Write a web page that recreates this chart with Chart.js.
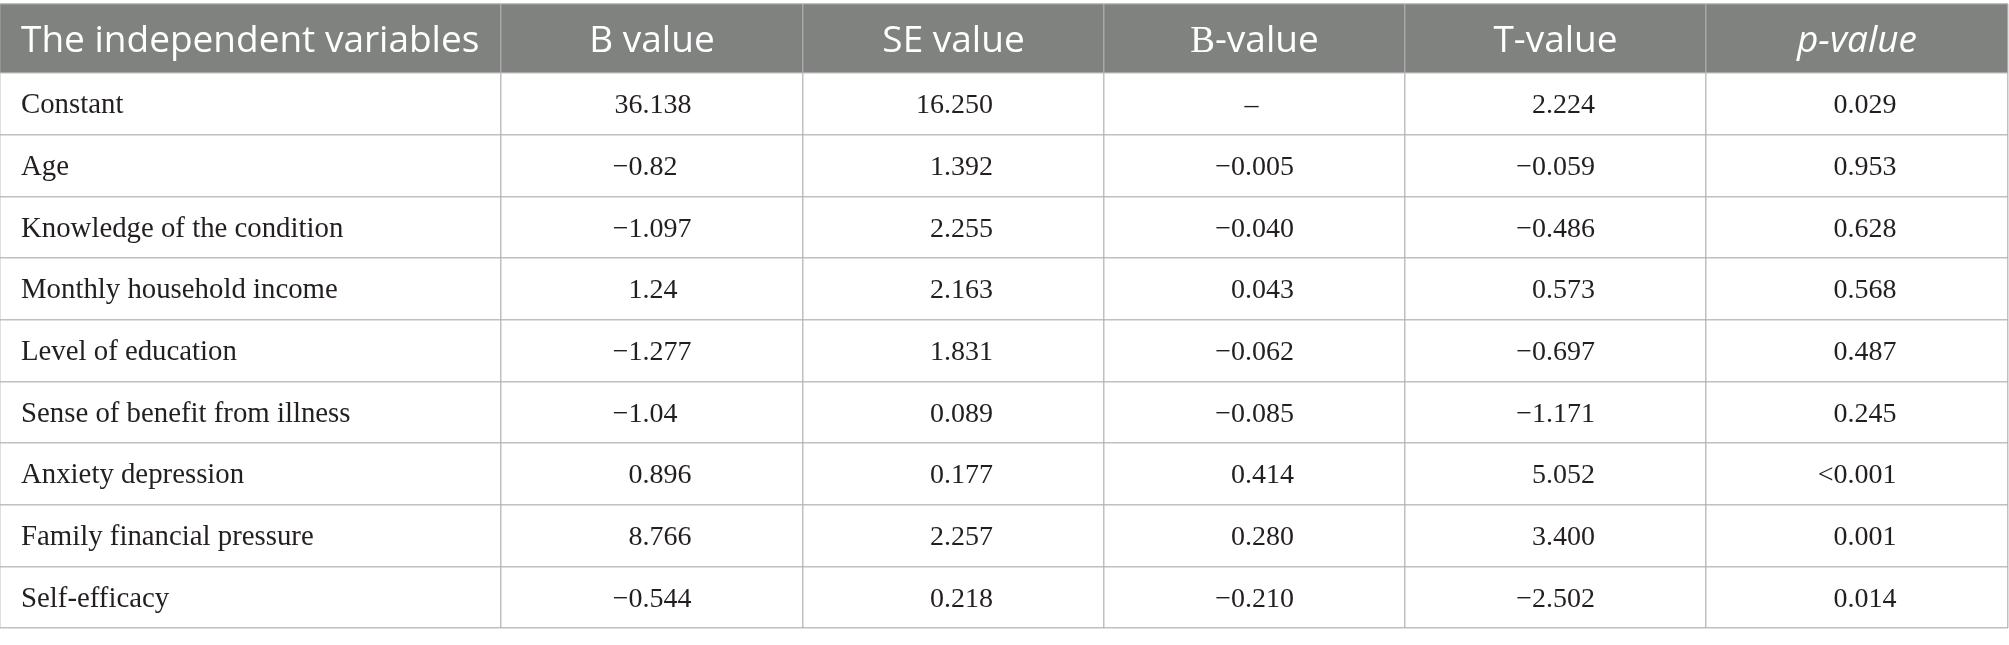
<!DOCTYPE html>
<html>
<head>
<meta charset="utf-8">
<script src="https://cdn.jsdelivr.net/npm/chart.js@4.4.1/dist/chart.umd.min.js"></script>
<style>
  html, body { margin: 0; padding: 0; background: #fff; overflow: hidden; }
  #wrap { width: 2009px; height: 645px; position: relative; }
</style>
</head>
<body>
<div id="wrap"><canvas id="c" width="2009" height="645"></canvas></div>
<script>
// ---------- data ----------
const columnHeaders = ['The independent variables', 'B value', 'SE value', 'Β-value', 'T-value', 'p-value'];
const variables = [
  'Constant',
  'Age',
  'Knowledge of the condition',
  'Monthly household income',
  'Level of education',
  'Sense of benefit from illness',
  'Anxiety depression',
  'Family financial pressure',
  'Self-efficacy'
];
const bValues    = [36.138, -0.82, -1.097, 1.24, -1.277, -1.04, 0.896, 8.766, -0.544];
const seValues   = [16.250, 1.392, 2.255, 2.163, 1.831, 0.089, 0.177, 2.257, 0.218];
const betaValues = [null, -0.005, -0.040, 0.043, -0.062, -0.085, 0.414, 0.280, -0.210];
const tValues    = [2.224, -0.059, -0.486, 0.573, -0.697, -1.171, 5.052, 3.400, -2.502];
const pValues    = ['0.029', '0.953', '0.628', '0.568', '0.487', '0.245', '<0.001', '0.001', '0.014'];

// ---------- layout ----------
const COL_WIDTHS = [501, 302, 301, 301, 301, 302];
const HEADER_HEIGHT = 69;
const ROW_HEIGHT = 61.67;

const colEdges = [0];
COL_WIDTHS.forEach(w => colEdges.push(colEdges[colEdges.length - 1] + w));
const colCenters = COL_WIDTHS.map((w, j) => colEdges[j] + w / 2);
const rowEdges = [0, HEADER_HEIGHT];
variables.forEach(() => rowEdges.push(rowEdges[rowEdges.length - 1] + ROW_HEIGHT));
const rowCenters = variables.map((_, i) => HEADER_HEIGHT + ROW_HEIGHT * (i + 0.5));
const TOTAL_W = colEdges[colEdges.length - 1];
const TOTAL_H = rowEdges[rowEdges.length - 1];

const minus = s => s.replace('-', '\u2212');
const columnTexts = [
  variables,
  bValues.map(v => minus(String(v))),
  seValues.map(v => v.toFixed(3)),
  betaValues.map(v => v === null ? '\u2013' : minus(v.toFixed(3))),
  tValues.map(v => minus(v.toFixed(3))),
  pValues
];

const HEADER_FONT = "37px 'Open Sans'";
const NAME_FONT = "28.8px 'Liberation Serif'";
const NUM_FONT = "28px 'Liberation Serif'";
const DECIMAL_SHIFT = -6;

const datasets = columnTexts.map((texts, j) => ({
  label: columnHeaders[j],
  kind: j === 0 ? 'name' : 'num',
  cellText: texts,
  data: texts.map((t, i) => ({ x: j === 0 ? colEdges[0] : colCenters[j], y: rowCenters[i] })),
  pointRadius: 0,
  showLine: false
}));
datasets.push({
  label: 'header',
  kind: 'header',
  cellText: columnHeaders,
  data: columnHeaders.map((h, j) => ({ x: j === 0 ? colEdges[0] : colCenters[j], y: HEADER_HEIGHT / 2 })),
  pointRadius: 0,
  showLine: false
});

const tablePlugin = {
  id: 'tablePlugin',
  beforeDraw(chart) {
    const { ctx, scales: { x, y } } = chart;
    ctx.save();
    ctx.fillStyle = '#ffffff';
    ctx.fillRect(0, 0, chart.width, chart.height);
    const x0 = x.getPixelForValue(0), x1 = x.getPixelForValue(TOTAL_W);
    const y0 = y.getPixelForValue(0), y1 = y.getPixelForValue(HEADER_HEIGHT);
    ctx.fillStyle = '#7f827f';
    ctx.fillRect(x0, y0, x1 - x0, y1 - y0);
    ctx.restore();
  },
  afterDatasetsDraw(chart) {
    const ctx = chart.ctx;
    ctx.save();
    chart.data.datasets.forEach((ds, di) => {
      const meta = chart.getDatasetMeta(di);
      meta.data.forEach((pt, i) => {
        const text = ds.cellText[i];
        if (ds.kind === 'header') {
          ctx.fillStyle = '#ffffff';
          ctx.textBaseline = 'alphabetic';
          const by = pt.y + 14;
          if (i === 0) {
            ctx.font = HEADER_FONT;
            ctx.textAlign = 'left';
            ctx.fillText(text, pt.x + 21, by);
          } else if (text.startsWith('Β')) {
            ctx.font = "37px 'Liberation Serif'";
            const w1 = ctx.measureText('Β').width;
            ctx.font = HEADER_FONT;
            const rest = text.slice(1);
            const w2 = ctx.measureText(rest).width;
            const sx = pt.x - (w1 + w2) / 2;
            ctx.textAlign = 'left';
            ctx.font = "37px 'Liberation Serif'";
            ctx.fillText('Β', sx, by);
            ctx.font = HEADER_FONT;
            ctx.fillText(rest, sx + w1, by);
          } else {
            ctx.font = text === 'p-value' ? "italic 37px 'Open Sans'" : HEADER_FONT;
            ctx.textAlign = 'center';
            ctx.fillText(text, pt.x, by);
          }
        } else {
          ctx.fillStyle = '#231f20';
          ctx.textBaseline = 'alphabetic';
          const by = pt.y + 9.5;
          if (ds.kind === 'name') {
            ctx.font = NAME_FONT;
            ctx.textAlign = 'left';
            ctx.fillText(text, pt.x + 21, by);
          } else {
            ctx.font = NUM_FONT;
            const dot = text.indexOf('.');
            if (dot < 0) {
              ctx.textAlign = 'center';
              ctx.fillText(text, pt.x - 3, by);
            } else {
              const ax = pt.x - ctx.measureText('.').width / 2 + DECIMAL_SHIFT;
              ctx.textAlign = 'right';
              ctx.fillText(text.slice(0, dot), ax, by);
              ctx.textAlign = 'left';
              ctx.fillText(text.slice(dot), ax, by);
            }
          }
        }
      });
    });
    ctx.restore();
  }
};

const gridCfg = { color: 'rgba(177,177,177,0.81)', lineWidth: 1.5, drawTicks: false };

new Chart(document.getElementById('c'), {
  type: 'scatter',
  data: { datasets },
  options: {
    responsive: false,
    animation: false,
    devicePixelRatio: 1,
    events: [],
    layout: { padding: { top: 4, bottom: 17, left: 0, right: 1 } },
    plugins: { legend: { display: false }, tooltip: { enabled: false } },
    scales: {
      x: {
        type: 'linear', min: 0, max: TOTAL_W,
        afterBuildTicks: s => { s.ticks = colEdges.map(v => ({ value: v })); },
        grid: gridCfg,
        ticks: { display: false },
        border: { display: false }
      },
      y: {
        type: 'linear', min: 0, max: TOTAL_H, reverse: true,
        afterBuildTicks: s => { s.ticks = rowEdges.map(v => ({ value: v })); },
        grid: gridCfg,
        ticks: { display: false },
        border: { display: false }
      }
    }
  },
  plugins: [tablePlugin]
});
</script>
</body>
</html>
